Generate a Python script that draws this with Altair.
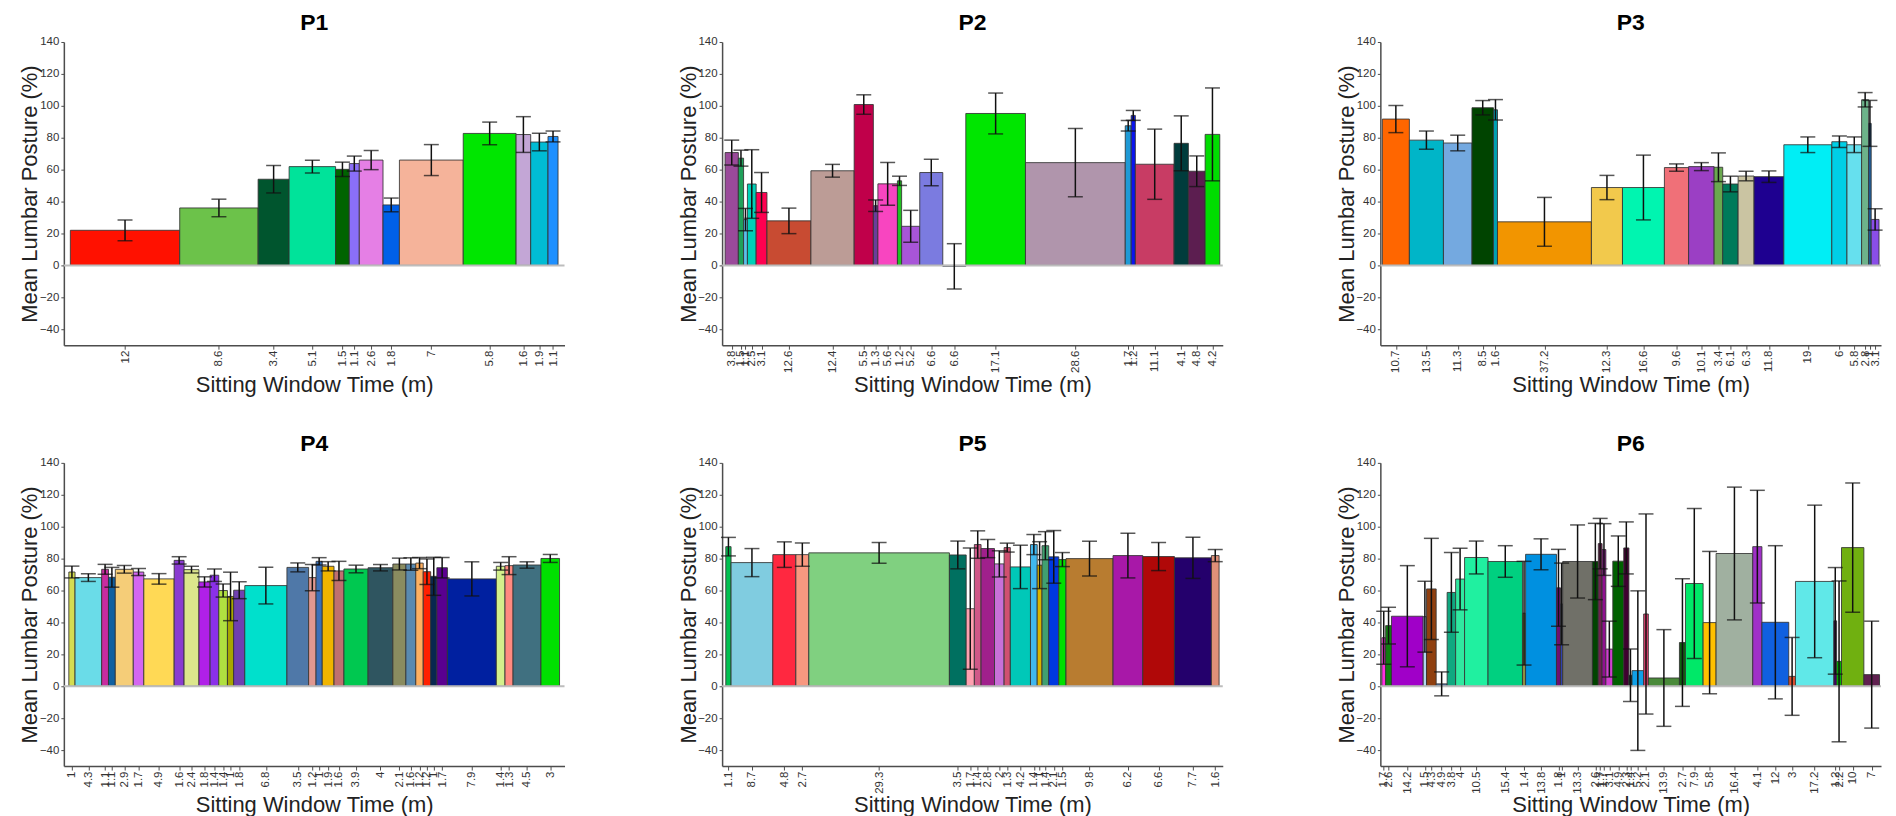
import altair as alt
import pandas as pd

# ---------------- data ----------------
TITLES = ["P1", "P2", "P3", "P4", "P5", "P6"]

P1_DUR = [12, 8.6, 3.4, 5.1, 1.5, 1.1, 2.6, 1.8, 7, 5.8, 1.6, 1.9, 1.1]
P1_MEAN = [22.0, 36.0, 54.0, 61.9, 60.2, 63.8, 66.0, 37.9, 66.0, 82.7, 82.0, 77.3, 80.8]
P1_ERR = [6.5, 5.5, 8.6, 4.0, 4.5, 4.7, 6.0, 4.3, 9.7, 7.1, 11.2, 5.5, 3.4]
P1_COL = ["#ff1100", "#6cc24a", "#00552e", "#00e39a", "#006400", "#8a6ff8", "#e57fe5",
          "#0060e8", "#f5b39a", "#00e600", "#c3a6d6", "#00bcd4", "#1e90ff"]

P2_DUR = [3.8, 1.5, 1.1, 2.5, 3.1, 12.6, 12.4, 5.5, 1.3, 5.6, 1.2, 5.2, 6.6, 6.6, 17.1,
          28.6, 1.7, 1.2, 11.1, 4.1, 4.8, 4.2]
P2_MEAN = [70.7, 67.2, 28.7, 51.0, 45.7, 27.9, 59.3, 100.8, 37.4, 51.1, 53.0, 24.5, 58.2,
           -0.6, 95.2, 64.4, 87.5, 94.0, 63.4, 76.5, 59.0, 82.1]
P2_ERR = [7.8, 5.0, 7.0, 21.5, 12.5, 8.0, 4.0, 6.1, 3.6, 13.4, 2.9, 10.0, 8.3, 14.2, 12.8,
          21.4, 3.3, 3.1, 22.0, 17.2, 9.6, 29.1]
P2_COL = ["#9a4a9a", "#1fa05a", "#5bc0eb", "#00d0b8", "#ff0050", "#c84b32", "#bc9c96",
          "#c0004a", "#6a3d9a", "#f845c0", "#22c022", "#a855d8", "#7b7be0", "#3050c0",
          "#00e600", "#b095ac", "#1f9ad6", "#0a14f0", "#c83c64", "#003c3c", "#5c1e50",
          "#00dd00"]

P3_DUR = [10.7, 13.5, 11.3, 8.5, 1.6, 37.2, 12.3, 16.6, 9.6, 10.1, 3.4, 6.1, 6.3, 11.8,
          19, 6, 5.8, 2.8, 1, 3.1]
P3_MEAN = [91.7, 78.5, 76.7, 98.8, 97.5, 27.3, 48.8, 48.8, 61.3, 61.9, 61.5, 51.0, 56.0,
           55.6, 75.6, 77.5, 75.6, 103.8, 89.0, 28.8]
P3_ERR = [8.5, 5.7, 4.9, 4.5, 6.4, 15.3, 7.6, 20.3, 2.3, 2.5, 9.0, 4.9, 3.0, 3.6, 4.9,
          3.6, 4.9, 4.5, 14.4, 6.7]
P3_COL = ["#ff6600", "#00b5c8", "#74a9e0", "#004400", "#00a0b0", "#f29500", "#f2c94c",
          "#00f5b0", "#f07078", "#9b3fc4", "#6aa84f", "#007a5a", "#cac4a2", "#1e0090",
          "#00eef5", "#00cfe6", "#66e0ee", "#6db38a", "#1d5fa0", "#8a4ee8"]

P4_DUR = [1, 4.3, 1.1, 1.1, 2.9, 1.7, 4.9, 1.6, 2.4, 1.8, 1.4, 1.4, 1, 1.8, 6.8, 3.5, 1.2,
          1, 1.9, 1.6, 3.9, 4, 2.1, 1.6, 1.2, 1.2, 1, 1.7, 7.9, 1.4, 1.3, 4.5, 3]
P4_MEAN = [71.6, 68.1, 73.3, 68.3, 73.3, 71.6, 67.3, 78.9, 73.1, 65.4, 69.6, 60.0, 56.3,
           60.2, 63.1, 74.5, 68.1, 78.3, 75.2, 72.3, 73.5, 74.3, 76.6, 76.6, 77.2, 71.8,
           68.9, 74.3, 67.3, 75.2, 75.6, 76.0, 80.1]
P4_ERR = [3.7, 2.4, 3.1, 6.2, 2.4, 2.2, 3.3, 2.3, 2.1, 3.2, 3.9, 4.1, 15.2, 5.3, 11.5, 2.8,
          8.2, 2.3, 2.9, 6.0, 2.4, 2.0, 3.7, 3.9, 3.5, 8.0, 11.9, 6.4, 10.7, 2.4, 5.6, 2.0,
          2.5]
P4_COL = ["#d4dc50", "#6adce8", "#c82ca0", "#1060a0", "#f5cd78", "#d466f0", "#ffd955",
          "#8a3cd0", "#dce68c", "#b020e8", "#8a30e8", "#b0e040", "#a8a800", "#7040b0",
          "#00e0cc", "#4f78a8", "#e09890", "#3a6fb8", "#f0b400", "#c07070", "#00c850",
          "#2f5560", "#8a8c60", "#5a8ab0", "#ffb060", "#ff2000", "#082850", "#5a0090",
          "#0020a0", "#d4f08c", "#ff8a80", "#407080", "#00e000"]

P5_DUR = [1.1, 8.7, 4.8, 2.7, 29.3, 3.5, 1.7, 1.4, 2.8, 2, 1.3, 4.2, 1.4, 1, 1.4, 2.1, 1.5,
          9.8, 6.2, 6.6, 7.7, 1.6]
P5_MEAN = [87.5, 77.5, 82.5, 82.5, 83.6, 82.3, 48.6, 88.8, 86.3, 76.7, 86.9, 74.8, 88.8,
           75.9, 88.1, 81.1, 79.4, 80.0, 81.9, 81.3, 80.5, 81.9]
P5_ERR = [5.8, 8.8, 8.0, 7.3, 6.5, 8.7, 38.0, 8.6, 5.7, 8.2, 2.8, 13.6, 6.3, 14.7, 8.8,
          16.5, 4.4, 10.9, 14.0, 8.8, 12.9, 3.8]
P5_COL = ["#00c050", "#80cce0", "#ff2840", "#f89880", "#80d080", "#007060", "#ffa0b0",
          "#d05888", "#a0208c", "#c870d8", "#d05070", "#00c8b8", "#40b8f0", "#d8b400",
          "#40a070", "#0038e0", "#00e000", "#b87c30", "#a818a8", "#b00808", "#24006c",
          "#e09078"]

P6_DUR = [1.7, 2.6, 14.2, 1.5, 4.3, 4.9, 3.8, 4, 10.5, 15.4, 1.4, 13.8, 1.8, 1, 13.3, 2.6,
          1.7, 1.7, 3.1, 4.9, 2.3, 1.4, 5.2, 2.1, 13.9, 2.7, 7.9, 5.8, 16.4, 4.1, 12, 3,
          17.2, 1.2, 2.2, 10, 7]
P6_MEAN = [30.4, 38.0, 43.9, 43.6, 61.0, 1.5, 58.8, 67.2, 80.7, 78.2, 45.8, 82.7, 61.7,
           51.6, 78.2, 78.2, 89.4, 85.7, 23.3, 78.4, 86.7, 6.9, 9.8, 45.3, 5.2, 27.4, 64.4,
           39.9, 83.2, 87.5, 40.1, 6.2, 65.7, 41.0, 15.6, 86.9, 7.3]
P6_ERR = [16.6, 11.5, 31.7, 22.2, 31.7, 7.5, 25.0, 19.3, 10.3, 9.9, 32.5, 9.7, 24.1, 25.6,
          22.9, 23.9, 15.8, 16.2, 17.5, 15.8, 16.3, 16.4, 50.0, 62.7, 30.3, 40.0, 47.0,
          44.6, 41.6, 35.3, 48.0, 24.4, 47.8, 33.4, 50.4, 40.5, 33.5]
P6_COL = ["#ff30e0", "#108010", "#a000c8", "#b0d8f0", "#904010", "#5070a0", "#10a880",
          "#30e8a0", "#20f0a0", "#00d080", "#909040", "#0090e0", "#701070", "#3040b0",
          "#707068", "#004400", "#702050", "#901090", "#d040d0", "#006000", "#400030",
          "#103020", "#10a0e8", "#e04070", "#4a8a3a", "#106010", "#00e868", "#ffc000",
          "#a0b0a0", "#a030c8", "#1060e0", "#e05030", "#60e8e8", "#400060", "#00b000",
          "#70b010", "#602050"]

Y_TICKS = [-40, -20, 0, 20, 40, 60, 80, 100, 120, 140]
Y_DOMAIN = [-50, 140]

# ---------------- style ----------------
PLOT_W, PLOT_H = 502, 304
X_PAD_PX = [6.5, 3, 2, 5, 3.7, 1.5]
FONT = "Liberation Sans"

PANELS = [
    (P1_DUR, P1_MEAN, P1_ERR, P1_COL),
    (P2_DUR, P2_MEAN, P2_ERR, P2_COL),
    (P3_DUR, P3_MEAN, P3_ERR, P3_COL),
    (P4_DUR, P4_MEAN, P4_ERR, P4_COL),
    (P5_DUR, P5_MEAN, P5_ERR, P5_COL),
    (P6_DUR, P6_MEAN, P6_ERR, P6_COL),
]


def make_panel(title, durs, means, errs, cols, pad_px):
    rows = []
    acc = 0.0
    for d, m, e, c in zip(durs, means, errs, cols):
        x0 = acc
        x1 = acc + d
        acc = x1
        rows.append(dict(x0=x0, x1=x1, xc=round((x0 + x1) / 2, 4), mean=m, zero=0.0,
                         lo=m - e, hi=m + e, color=c, label=f"{d:g}"))
    df = pd.DataFrame(rows)
    total = acc
    pad = pad_px * total / (PLOT_W - 2 * pad_px)

    xscale = alt.Scale(domain=[-pad, total + pad], nice=False, zero=False)
    yscale = alt.Scale(domain=Y_DOMAIN, nice=False, zero=False)

    centers = df["xc"].tolist()
    labels = df["label"].tolist()
    label_expr = ("[" + ",".join("'" + l + "'" for l in labels) + "][indexof(["
                  + ",".join(repr(float(c)) for c in centers) + "], datum.value)]")

    xaxis = alt.Axis(values=centers, labelExpr=label_expr, labelAngle=270,
                     labelOverlap=False, labelFlush=False, grid=False,
                     title="Sitting Window Time (m)", titleY=46, titleFontSize=22,
                     titleBaseline="alphabetic", tickSize=4, labelPadding=1)
    yaxis = alt.Axis(values=Y_TICKS, grid=False, title="Mean Lumbar Posture (%)",
                     titleX=-27, titleBaseline="alphabetic", titleFontSize=22,
                     tickSize=3, labelPadding=2)

    X0 = alt.X("x0:Q", scale=xscale, axis=xaxis)
    XC = alt.X("xc:Q", scale=xscale, axis=xaxis)

    base = alt.Chart(df)
    bars = base.mark_rect(stroke="#333333", strokeWidth=1, strokeOpacity=0.85).encode(
        x=X0, x2="x1:Q",
        y=alt.Y("mean:Q", scale=yscale, axis=yaxis), y2="zero:Q",
        fill=alt.Fill("color:N", scale=None),
    )
    zero_line = alt.Chart(pd.DataFrame({"z": [0.0]})).mark_rule(
        color="#bdbdbd", strokeWidth=2).encode(
        y=alt.Y("z:Q", scale=yscale, axis=yaxis))
    err = base.mark_rule(color="#111111", strokeWidth=1.5).encode(
        x=XC, y=alt.Y("lo:Q", scale=yscale, axis=yaxis), y2="hi:Q")
    cap_hi = base.mark_tick(color="#111111", thickness=1.5, size=15,
                            orient="horizontal").encode(
        x=XC, y=alt.Y("hi:Q", scale=yscale, axis=yaxis))
    cap_lo = base.mark_tick(color="#111111", thickness=1.5, size=15,
                            orient="horizontal").encode(
        x=XC, y=alt.Y("lo:Q", scale=yscale, axis=yaxis))

    return alt.layer(bars, zero_line, err, cap_hi, cap_lo).properties(
        width=PLOT_W, height=PLOT_H,
        title=alt.TitleParams(title, fontSize=23, fontWeight="bold", font=FONT,
                              color="#000000", frame="group", baseline="alphabetic",
                              offset=2, dy=19),
    )


charts = [make_panel(t, *p, pad) for t, p, pad in zip(TITLES, PANELS, X_PAD_PX)]

chart = alt.concat(*charts, columns=3, spacing={"row": 118, "column": 158},
                   bounds="flush").properties(
    padding={"left": 11, "top": 3, "right": 5, "bottom": 3}
).configure_view(stroke=None).configure_axis(
    domainColor="#4d4d4d", domainWidth=1.5, tickColor="#4d4d4d", tickWidth=1,
    labelColor="#333333", labelFont=FONT, labelFontSize=11.5,
    titleFont=FONT, titleFontWeight="normal", titleColor="#222222",
)

chart.save("out.html", embed_options={"renderer": "svg", "actions": False})
